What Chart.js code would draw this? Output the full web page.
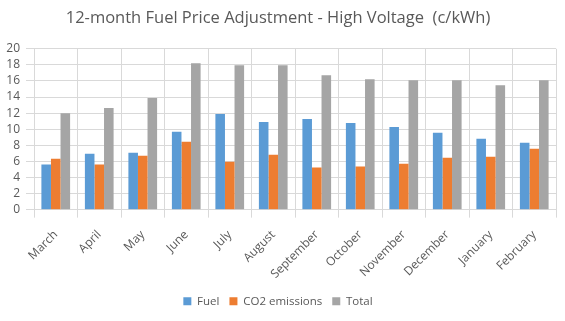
<!DOCTYPE html>
<html lang="en">
<head>
  <meta charset="UTF-8">
  <title>Fuel Price Adjustment</title>
  <script src="https://cdn.jsdelivr.net/npm/chart.js"></script>
  <style>
    body { margin: 0; padding: 0; background: #fff; }
    .wrap { width: 565px; height: 321px; }
  </style>
</head>
<body>
  <div class="wrap"><canvas id="fuelChart" width="565" height="321"></canvas></div>
  <script>
    const months = ['March', 'April', 'May', 'June', 'July', 'August', 'September', 'October', 'November', 'December', 'January', 'February'];
    const fuel = [5.6, 6.95, 7.08, 9.67, 11.89, 10.9, 11.28, 10.78, 10.29, 9.55, 8.81, 8.31];
    const co2 = [6.34, 5.6, 6.7, 8.44, 5.97, 6.83, 5.23, 5.35, 5.72, 6.46, 6.58, 7.57];
    const total = [12.0, 12.63, 13.87, 18.19, 17.94, 17.94, 16.7, 16.21, 16.09, 16.09, 15.47, 16.09];

    const txt = '#595959';
    const grid = '#d9d9d9';

    const ctx = document.getElementById('fuelChart').getContext('2d');
    const fuelChart = new Chart(ctx, {
      type: 'bar',
      data: {
        labels: months,
        datasets: [
          { label: 'Fuel', data: fuel, backgroundColor: '#5B9BD5' },
          { label: 'CO2 emissions', data: co2, backgroundColor: '#ED7D31' },
          { label: 'Total', data: total, backgroundColor: '#A5A5A5' }
        ]
      },
      options: {
        responsive: false,
        animation: false,
        datasets: { bar: { categoryPercentage: 0.66, barPercentage: 1.0 } },
        layout: { padding: { left: 0, right: 9, top: 0, bottom: 4 } },
        plugins: {
          title: {
            display: true,
            text: '12-month Fuel Price Adjustment - High Voltage  (c/kWh)',
            color: txt,
            font: { family: 'Open Sans', size: 16.5, weight: 'normal' },
            padding: { top: 8, bottom: 21 }
          },
          legend: {
            position: 'bottom',
            labels: {
              color: txt,
              font: { family: 'Open Sans', size: 11.5 },
              boxWidth: 8,
              boxHeight: 8,
              padding: 10
            }
          },
          tooltip: { enabled: false }
        },
        scales: {
          x: {
            grid: { color: grid, offset: true },
            border: { color: grid },
            ticks: {
              color: txt,
              font: { family: 'Open Sans', size: 12 },
              minRotation: 45,
              maxRotation: 45,
              autoSkip: false,
              padding: 10
            },
            afterFit: function (scale) { scale.height -= 6; }
          },
          y: {
            min: 0,
            max: 20,
            grid: { color: grid },
            border: { display: false },
            ticks: {
              stepSize: 2,
              autoSkip: false,
              color: txt,
              font: { family: 'Open Sans', size: 12 },
              padding: 6
            },
            afterFit: function (scale) { scale.width = 34; }
          }
        }
      }
    });
  </script>
</body>
</html>
